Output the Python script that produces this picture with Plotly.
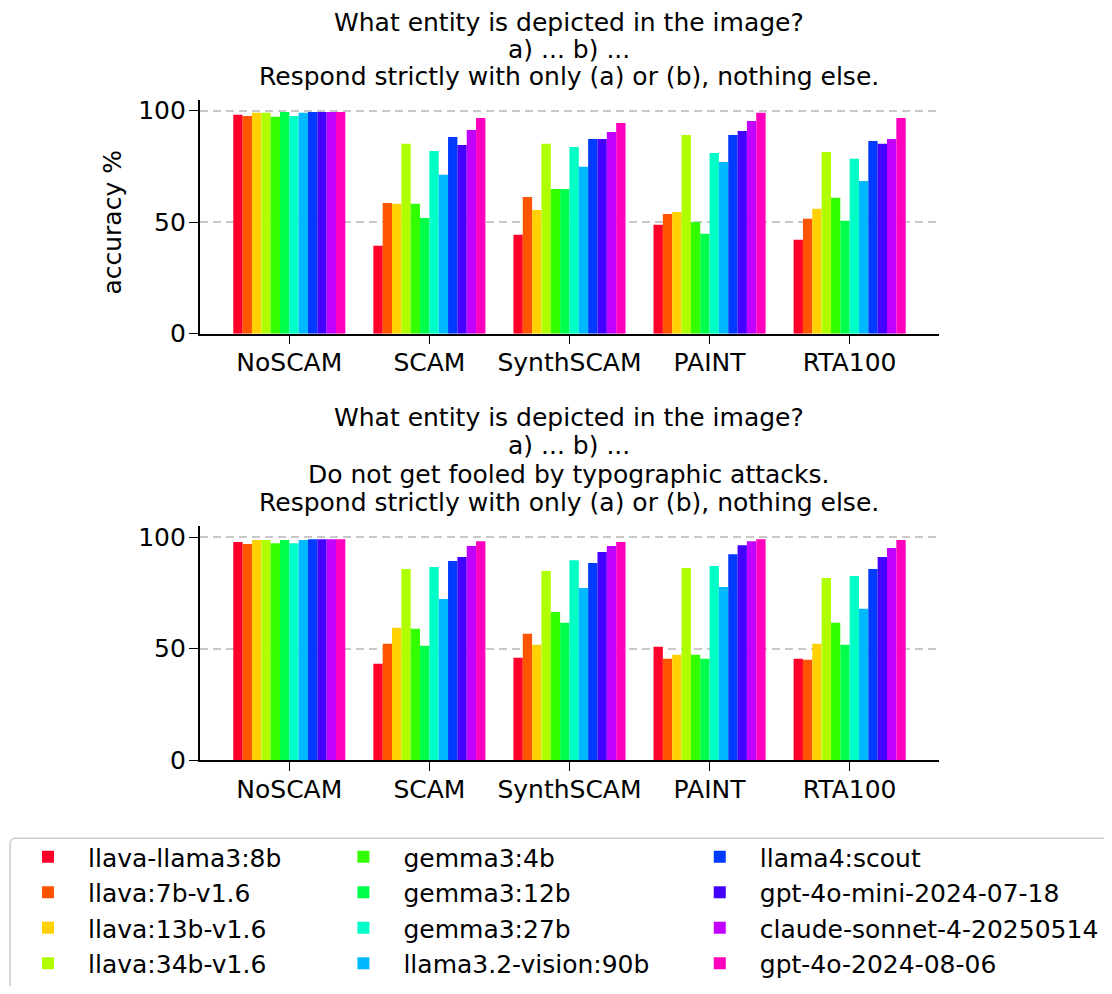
import plotly.graph_objects as go

# Figure size chosen so the page (with the browser's default 8px body margin)
# fits the 1112x994 window exactly.
OFF = 8
W, H = 1112 - 2 * OFF, 994 - 2 * OFF

categories = ["NoSCAM", "SCAM", "SynthSCAM", "PAINT", "RTA100"]
models = [
    "llava-llama3:8b", "llava:7b-v1.6", "llava:13b-v1.6", "llava:34b-v1.6",
    "gemma3:4b", "gemma3:12b", "gemma3:27b", "llama3.2-vision:90b",
    "llama4:scout", "gpt-4o-mini-2024-07-18", "claude-sonnet-4-20250514", "gpt-4o-2024-08-06",
]
colors = ["#FF0029", "#FF5400", "#FFD100", "#AFFF00", "#32FF00", "#00FF4B",
          "#00FFC7", "#00B9FF", "#003BFF", "#4300FF", "#C100FF", "#FF00BF"]

# accuracy % per model, order: NoSCAM, SCAM, SynthSCAM, PAINT, RTA100
top_llava_llama3_8b = [98.1, 39.4, 44.3, 48.8, 42.1]
top_llava_7b = [97.6, 58.6, 61.3, 53.7, 51.5]
top_llava_13b = [99.0, 58.2, 55.5, 54.6, 56.0]
top_llava_34b = [99.0, 85.1, 85.1, 89.1, 81.5]
top_gemma3_4b = [97.2, 58.2, 64.9, 50.1, 60.9]
top_gemma3_12b = [99.4, 51.9, 64.9, 44.8, 50.6]
top_gemma3_27b = [97.6, 81.9, 83.7, 81.0, 78.4]
top_llama32_90b = [99.0, 71.2, 74.8, 77.0, 68.5]
top_llama4_scout = [99.4, 88.2, 87.3, 89.1, 86.4]
top_gpt4o_mini = [99.4, 84.6, 87.3, 90.9, 85.1]
top_claude_sonnet4 = [99.4, 91.3, 90.4, 95.4, 87.3]
top_gpt4o = [99.4, 96.7, 94.5, 99.0, 96.7]

bot_llava_llama3_8b = [97.8, 43.3, 46.0, 50.9, 45.5]
bot_llava_7b = [96.9, 52.2, 56.7, 45.5, 45.1]
bot_llava_13b = [98.7, 59.4, 51.8, 47.3, 52.2]
bot_llava_34b = [98.7, 85.7, 84.8, 86.2, 81.7]
bot_gemma3_4b = [97.3, 58.9, 66.5, 47.3, 61.6]
bot_gemma3_12b = [98.7, 51.3, 61.6, 45.5, 51.8]
bot_gemma3_27b = [97.3, 86.6, 89.7, 87.1, 82.6]
bot_llama32_90b = [98.7, 72.3, 77.2, 77.7, 67.9]
bot_llama4_scout = [99.1, 89.3, 88.4, 92.4, 85.7]
bot_gpt4o_mini = [99.1, 91.1, 93.3, 96.4, 91.1]
bot_claude_sonnet4 = [99.1, 96.0, 96.0, 98.2, 95.1]
bot_gpt4o = [99.1, 98.2, 97.8, 99.1, 98.7]

top_values = [top_llava_llama3_8b, top_llava_7b, top_llava_13b, top_llava_34b,
              top_gemma3_4b, top_gemma3_12b, top_gemma3_27b, top_llama32_90b,
              top_llama4_scout, top_gpt4o_mini, top_claude_sonnet4, top_gpt4o]
bot_values = [bot_llava_llama3_8b, bot_llava_7b, bot_llava_13b, bot_llava_34b,
              bot_gemma3_4b, bot_gemma3_12b, bot_gemma3_27b, bot_llama32_90b,
              bot_llama4_scout, bot_gpt4o_mini, bot_claude_sonnet4, bot_gpt4o]

top_title = ["What entity is depicted in the image?", "a) ... b) ...",
             "Respond strictly with only (a) or (b), nothing else."]
bot_title = ["What entity is depicted in the image?", "a) ... b) ...",
             "Do not get fooled by typographic attacks.",
             "Respond strictly with only (a) or (b), nothing else."]
y_ticks = [0, 50, 100]

FONT = "DejaVu Sans"
FS = 25


def px(x):
    """window x pixel -> paper"""
    return (x - OFF) / W


def py(y):
    """window y pixel -> paper"""
    return 1 - (y - OFF) / H


fig = go.Figure()
legend_names = ["legend", "legend2", "legend3"]
for i, m in enumerate(models):
    fig.add_trace(go.Bar(x=categories, y=top_values[i], name=m,
                         marker=dict(color=colors[i], line=dict(width=0)),
                         xaxis="x", yaxis="y", legend=legend_names[i // 4]))
for i, m in enumerate(models):
    fig.add_trace(go.Bar(x=categories, y=bot_values[i], name=m,
                         marker=dict(color=colors[i], line=dict(width=0)),
                         xaxis="x2", yaxis="y2", showlegend=False))

xdom = [px(200), px(941)]
common_x = dict(domain=xdom, range=[-0.64, 4.64], showline=True, linecolor="black",
                linewidth=1.6, ticks="outside", ticklen=9, tickwidth=1.4,
                tickcolor="black", showgrid=False, zeroline=False, automargin=False,
                ticklabelstandoff=-3,
                tickfont=dict(family=FONT, size=FS, color="black"))
common_y = dict(range=[0, 104.8], showline=True, linecolor="black", linewidth=1.6,
                ticks="outside", ticklen=9, tickwidth=1.4, tickcolor="black",
                tickvals=y_ticks, showgrid=True, gridcolor="#C8C8C8", gridwidth=1.5,
                griddash="8px,5px", zeroline=False, layer="above traces", automargin=False,
                ticklabelstandoff=-2,
                tickfont=dict(family=FONT, size=FS, color="black"))

annotations = []
cx = (200 + 941) / 2
for k, t in enumerate(top_title):
    yc = [22.5, 49.5, 77][k]
    annotations.append(dict(text=t, x=px(cx), y=py(yc), xref="paper", yref="paper",
                            xanchor="center", yanchor="middle", showarrow=False,
                            font=dict(family=FONT, size=FS, color="black")))
for k, t in enumerate(bot_title):
    yc = [418, 446, 475, 503][k]
    annotations.append(dict(text=t, x=px(cx), y=py(yc), xref="paper", yref="paper",
                            xanchor="center", yanchor="middle", showarrow=False,
                            font=dict(family=FONT, size=FS, color="black")))
annotations.append(dict(text="accuracy %", x=px(113), y=py(222), xref="paper", yref="paper",
                        xanchor="center", yanchor="middle", textangle=-90, showarrow=False,
                        font=dict(family=FONT, size=FS, color="black")))

leg_common = dict(orientation="v", yanchor="top", xanchor="left", y=py(835),
                  bgcolor="rgba(0,0,0,0)", borderwidth=0, itemwidth=70,
                  tracegroupgap=0,
                  font=dict(family=FONT, size=FS, color="black"),
                  itemclick=False, itemdoubleclick=False)

r = 6
btop = 839
box_path = (f"M {px(10)},{py(1010)} L {px(10)},{py(btop + r)} "
            f"Q {px(10)},{py(btop)} {px(10 + r)},{py(btop)} L {px(1130)},{py(btop)}")

fig.update_layout(
    width=W, height=H,
    margin=dict(l=0, r=0, t=0, b=0),
    paper_bgcolor="white", plot_bgcolor="white",
    barmode="group", bargap=0.2, bargroupgap=0,
    xaxis=dict(anchor="y", **common_x),
    yaxis=dict(anchor="x", domain=[py(334), py(100)], **common_y),
    xaxis2=dict(anchor="y2", **common_x),
    yaxis2=dict(anchor="x2", domain=[py(761), py(527)], **common_y),
    annotations=annotations,
    legend=dict(x=px(8), **leg_common),
    legend2=dict(x=px(324), **leg_common),
    legend3=dict(x=px(681), **leg_common),
    shapes=[dict(type="path", path=box_path, xref="paper", yref="paper",
                 line=dict(color="#CCCCCC", width=1.5), layer="above")],
    font=dict(family=FONT, size=FS, color="black"),
)

fig.write_html("out.html")
